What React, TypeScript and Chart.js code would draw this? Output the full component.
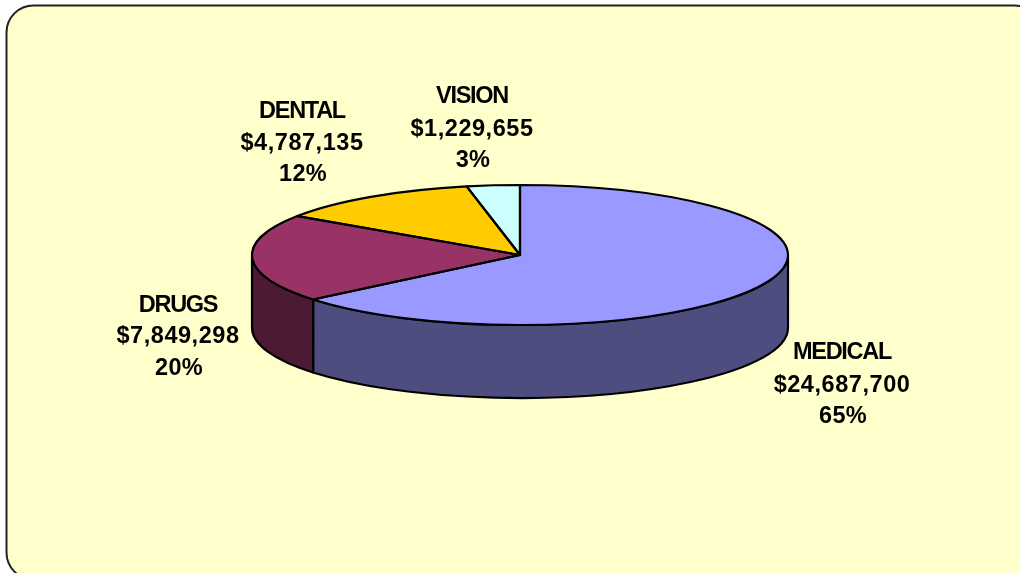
import React, { useEffect, useRef } from "react";
import { Chart, registerables } from "chart.js";

Chart.register(...registerables);

const categories = ["MEDICAL", "DRUGS", "DENTAL", "VISION"];
const values = [24687700, 7849298, 4787135, 1229655];
const amountLabels = ["$24,687,700", "$7,849,298", "$4,787,135", "$1,229,655"];
const percentLabels = ["65%", "20%", "12%", "3%"];
const topColors = ["#9999FF", "#993366", "#FFCC00", "#CCFFFF"];
const wallColors = ["#4D4D80", "#4D1A33", "#806600", "#668080"];

const labelCentres = [
  [842, 353, 386, 417],
  [178, 306, 337, 369],
  [302, 112, 144, 175],
  [472, 97, 130, 161],
];

const PIE = { cx: 520, cy: 255, rx: 268, ry: 70, depth: 73 };

const pie3d = {
  id: "pie3d",
  beforeDraw(chart: any) {
    const c = chart.ctx;
    c.save();
    c.beginPath();
    c.roundRect(6.5, 5.5, 1035, 574, 27);
    c.fillStyle = "#FFFFCC";
    c.fill();
    c.lineWidth = 2;
    c.strokeStyle = "#222222";
    c.stroke();
    c.restore();
  },
  beforeDatasetsDraw(chart: any) {
    const c = chart.ctx;
    const arcs = chart.getDatasetMeta(0).data;
    c.save();
    c.lineWidth = 2.2;
    c.strokeStyle = "#000";
    c.lineJoin = "round";
    arcs.forEach((a: any, i: number) => {
      const s = Math.max(a.startAngle, 0);
      const e = Math.min(a.endAngle, Math.PI);
      if (e <= s) return;
      c.beginPath();
      c.ellipse(PIE.cx, PIE.cy, PIE.rx, PIE.ry, 0, s, e);
      c.ellipse(PIE.cx, PIE.cy + PIE.depth, PIE.rx, PIE.ry, 0, e, s, true);
      c.closePath();
      c.fillStyle = wallColors[i];
      c.fill();
      c.stroke();
    });
    c.restore();
    const r = arcs[0].outerRadius;
    c.save();
    c.translate(PIE.cx, PIE.cy);
    c.scale(PIE.rx / r, PIE.ry / r);
    c.translate(-arcs[0].x, -arcs[0].y);
  },
  afterDatasetsDraw(chart: any) {
    const c = chart.ctx;
    c.restore();
    const arcs = chart.getDatasetMeta(0).data;
    c.save();
    c.lineWidth = 2.2;
    c.strokeStyle = "#000";
    c.lineJoin = "round";
    arcs.forEach((a: any) => {
      c.beginPath();
      c.moveTo(PIE.cx, PIE.cy);
      c.ellipse(PIE.cx, PIE.cy, PIE.rx, PIE.ry, 0, a.startAngle, a.endAngle);
      c.closePath();
      c.stroke();
    });
    c.fillStyle = "#000";
    c.textAlign = "center";
    c.textBaseline = "middle";
    c.font = 'bold 23.5px "Liberation Sans", Arial, sans-serif';
    categories.forEach((name, i) => {
      const [x, y0, y1, y2] = labelCentres[i];
      c.letterSpacing = "-1.3px";
      c.fillText(name, x, y0);
      c.letterSpacing = "0.55px";
      c.fillText(amountLabels[i], x, y1);
      c.letterSpacing = "0.3px";
      c.fillText(percentLabels[i], x + 1, y2);
    });
    c.restore();
  },
};

export default function App() {
  const ref = useRef<HTMLCanvasElement>(null);
  useEffect(() => {
    document.body.style.margin = "0";
    const chart = new Chart(ref.current as HTMLCanvasElement, {
      type: "pie",
      data: {
        labels: categories,
        datasets: [{ data: values, backgroundColor: topColors, borderWidth: 0 }],
      },
      options: {
        animation: false,
        responsive: false,
        plugins: { legend: { display: false }, tooltip: { enabled: false } },
      },
      plugins: [pie3d],
    } as any);
    return () => chart.destroy();
  }, []);
  return (
    <canvas
      ref={ref}
      width={1020}
      height={573}
      style={{ position: "absolute", left: 0, top: 0, width: 1020, height: 573, display: "block" }}
    />
  );
}
